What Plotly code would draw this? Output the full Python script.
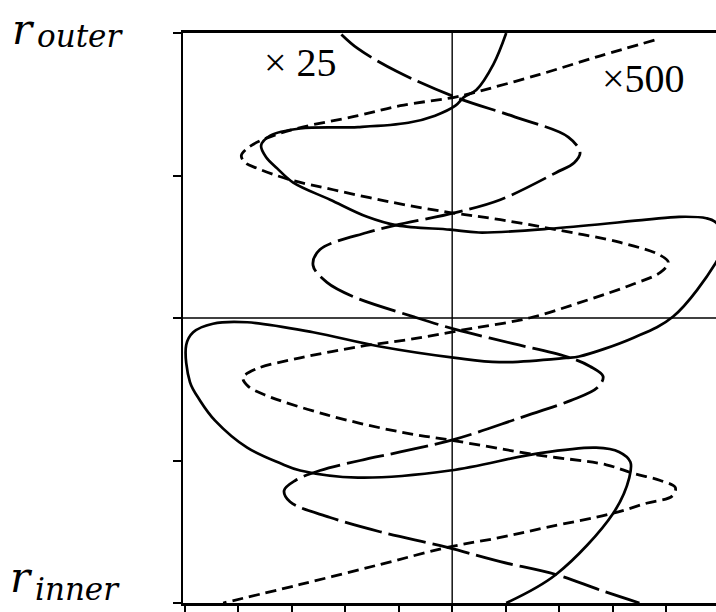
import plotly.graph_objects as go

# Radial profiles: horizontal offset vs. radius (r_inner = 0, r_outer = 4)
solid_x = [1.01, 0.77, 0.45, 0.22, 0.06, -0.32, -0.82, -1.76, -2.84, -3.40, -3.57, -3.48,
           -3.27, -2.97, -2.28, -1.59, -1.03, -0.04, 0.50, 1.94, 3.63, 4.24, 4.75, 4.93,
           5.10, 4.93, 4.13, 3.38, 2.37, 2.13, 0.88, 0.06, -1.35, -2.60, -3.83, -4.47,
           -4.84, -4.97, -4.90, -4.71, -4.43, -3.83, -3.21, -2.84, -1.76, -0.04, 1.61,
           2.69, 3.12, 3.33, 3.31, 3.01, 1.94, 1.01]
solid_r = [4.00, 3.78, 3.60, 3.55, 3.49, 3.42, 3.37, 3.34, 3.33, 3.28, 3.21, 3.13,
           3.05, 2.95, 2.83, 2.71, 2.65, 2.62, 2.60, 2.63, 2.69, 2.71, 2.70, 2.67,
           2.53, 2.39, 2.01, 1.86, 1.73, 1.72, 1.69, 1.72, 1.80, 1.90, 1.97, 1.96,
           1.90, 1.81, 1.55, 1.42, 1.28, 1.09, 0.98, 0.93, 0.88, 0.93, 1.05,
           1.09, 1.06, 0.99, 0.88, 0.63, 0.20, 0.00]

# x25 profile (long dashes)
long_x = [-2.07, -1.76, -1.03, 0.06, 1.18, 2.17, 2.39, 2.28, 1.94, 0.90, 0.06, -1.07,
          -1.59, -2.47, -2.60, -2.34, -1.85, -0.73, 0.06, 1.14, 2.13, 2.58, 2.82, 2.71,
          2.21, 1.27, 0.06, -0.97, -1.72, -2.47, -2.93, -3.14, -3.03, -2.28, -1.35,
          -0.09, 0.90, 1.94, 2.77, 3.50]
long_r = [3.99, 3.89, 3.73, 3.55, 3.41, 3.27, 3.16, 3.09, 3.02, 2.83, 2.74, 2.65,
          2.60, 2.48, 2.37, 2.25, 2.15, 2.01, 1.92, 1.82, 1.73, 1.66, 1.59, 1.51,
          1.42, 1.30, 1.15, 1.06, 1.00, 0.93, 0.86, 0.79, 0.71, 0.60, 0.50,
          0.39, 0.29, 0.20, 0.09, 0.00]

# x500 profile (short dashes)
short_x = [3.78, 2.77, 1.64, 0.39, 0.06, -0.97, -1.76, -2.90, -3.55, -3.83, -3.94, -3.87,
           -3.64, -3.03, -2.22, -1.10, -0.04, 0.90, 1.94, 3.14, 3.89, 4.04, 3.89, 3.33,
           2.56, 1.44, 0.26, -0.79, -1.72, -2.84, -3.68, -3.91, -3.81, -3.50, -2.34,
           -0.97, 0.02, 1.57, 2.88, 3.38, 3.89, 4.17, 4.11, 3.63, 3.01, 1.76, 0.90,
           -0.09, -1.35, -2.84, -4.28]
short_r = [3.95, 3.84, 3.71, 3.58, 3.55, 3.49, 3.42, 3.33, 3.25, 3.19, 3.14, 3.09,
           3.05, 2.97, 2.90, 2.81, 2.74, 2.69, 2.62, 2.53, 2.44, 2.39, 2.32, 2.23,
           2.13, 2.00, 1.92, 1.85, 1.80, 1.72, 1.64, 1.58, 1.52, 1.46, 1.32,
           1.20, 1.14, 1.04, 0.97, 0.91, 0.86, 0.81, 0.75, 0.70, 0.63, 0.53, 0.46,
           0.39, 0.27, 0.13, 0.00]

x_ticks = [-5, -4, -3, -2, -1, 0, 1, 2, 3, 4, 5]
r_ticks = [0, 1, 2, 3, 4]

fig = go.Figure()

common = dict(mode="lines", line_shape="spline", hoverinfo="skip", showlegend=False)
fig.add_trace(go.Scatter(x=solid_x, y=solid_r, line=dict(color="black", width=2.7), **common))
fig.add_trace(go.Scatter(x=long_x, y=long_r,
                         line=dict(color="black", width=2.8, dash="38px,7px"), **common))
fig.add_trace(go.Scatter(x=short_x, y=short_r,
                         line=dict(color="black", width=2.8, dash="11px,6px"), **common))

# reference lines at x = 0 and mid-radius
fig.add_shape(type="line", xref="x", yref="y", x0=0, x1=0, y0=0, y1=4,
              line=dict(color="black", width=1.4))
fig.add_shape(type="line", xref="paper", yref="y", x0=0, x1=1, y0=2, y1=2,
              line=dict(color="black", width=1.7))

serif = "Liberation Serif"
italic = "DejaVu Serif"
label_font = dict(family=italic, size=42, color="black", style="italic")
sub_font = dict(family=italic, size=31, color="black", style="italic")

# r_outer
fig.add_annotation(xref="paper", yref="paper", x=-0.325, y=1.007, xanchor="left", yanchor="middle",
                   text="r", showarrow=False, font=label_font)
fig.add_annotation(xref="paper", yref="paper", x=-0.278, y=0.995, xanchor="left", yanchor="middle",
                   text="outer", showarrow=False, font=sub_font)
# r_inner
fig.add_annotation(xref="paper", yref="paper", x=-0.328, y=0.045, xanchor="left", yanchor="middle",
                   text="r", showarrow=False, font=label_font)
fig.add_annotation(xref="paper", yref="paper", x=-0.281, y=0.025, xanchor="left", yanchor="middle",
                   text="inner", showarrow=False, font=sub_font)

fig.add_annotation(x=-2.84, y=3.79, text="× 25", showarrow=False,
                   font=dict(family=serif, size=40, color="black"))
fig.add_annotation(x=3.57, y=3.68, text="×500", showarrow=False,
                   font=dict(family=serif, size=40, color="black"))

fig.update_xaxes(range=[-5.03, 4.93], tickvals=x_ticks, showticklabels=False,
                 ticks="outside", ticklen=7, tickwidth=1.5, tickcolor="black",
                 showline=True, linecolor="black", linewidth=2.5, mirror=True,
                 showgrid=False, zeroline=False)
fig.update_yaxes(range=[0, 4], tickvals=r_ticks, showticklabels=False,
                 ticks="outside", ticklen=8, tickwidth=1.5, tickcolor="black",
                 showline=True, linecolor="black", linewidth=2, mirror=False,
                 showgrid=False, zeroline=False)

fig.update_layout(width=716, height=612, margin=dict(l=183, r=0, t=33, b=9),
                  paper_bgcolor="white", plot_bgcolor="white")

fig.write_html("out.html")
